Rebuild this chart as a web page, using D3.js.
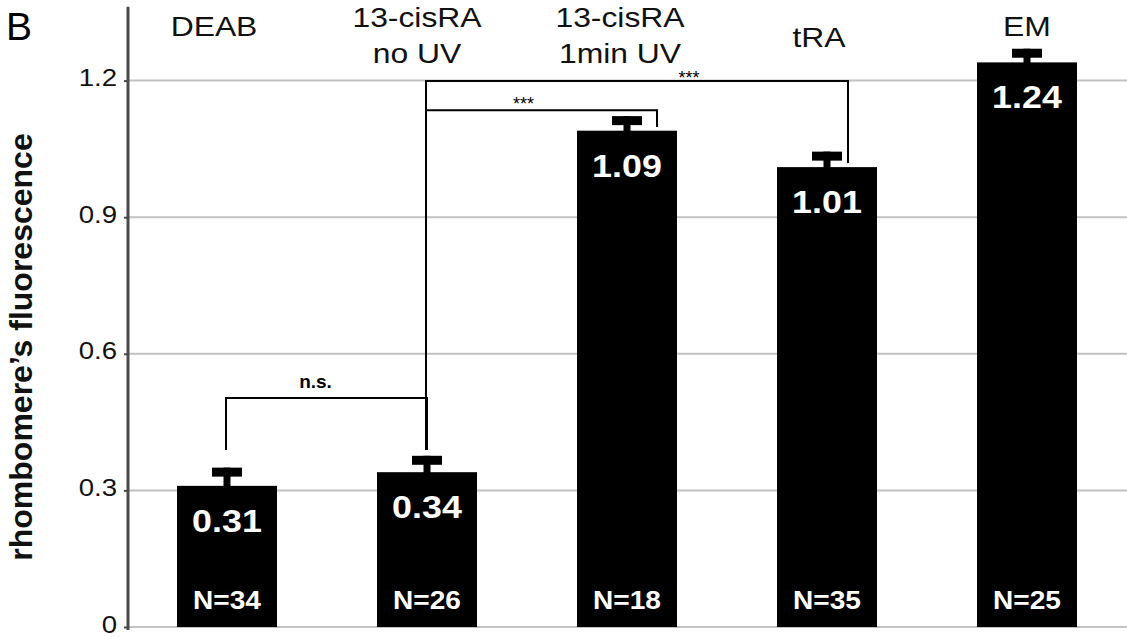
<!DOCTYPE html>
<html>
<head>
<meta charset="utf-8">
<script src="https://cdn.jsdelivr.net/npm/d3@7"></script>
<style>
  body { margin: 0; background: #fff; }
  text { font-family: "Liberation Sans", Arial, Helvetica, sans-serif; }
</style>
</head>
<body>
<script>
// data
var categories = ["DEAB", "13-cisRA no UV", "13-cisRA 1min UV", "tRA", "EM"];
var labelLines = [["DEAB"], ["13-cisRA", "no UV"], ["13-cisRA", "1min UV"], ["tRA"], ["EM"]];
var values = [0.31, 0.34, 1.09, 1.01, 1.24];
var errors = [0.04, 0.036, 0.032, 0.034, 0.03];
var counts = [34, 26, 18, 35, 25];
var yTicks = [0, 0.3, 0.6, 0.9, 1.2];
var brackets = [
  {from: 0, to: 1, level: 0.503, ends: [0.389, 0.389], label: "n.s."},
  {from: 1, to: 2, level: 1.135, ends: [0.389, 1.098], label: "***"},
  {from: 1, to: 3, level: 1.199, ends: [0.389, 1.019], label: "***"}
];

var W = 1127, H = 637;
var axisX = 128;

var svg = d3.select("body").append("svg")
    .attr("width", W)
    .attr("height", H);

var x = d3.scaleBand()
    .domain(categories)
    .range([127, 1127])
    .paddingInner(0.5)
    .paddingOuter(0.25);

var y = d3.scaleLinear()
    .domain([0, 1.2])
    .range([627, 80.6]);

var cx = function(i) { return x(categories[i]) + x.bandwidth() / 2; };

// gridlines
svg.append("g")
    .selectAll("line")
    .data(yTicks)
    .enter().append("line")
    .attr("x1", axisX)
    .attr("x2", W)
    .attr("y1", d => y(d))
    .attr("y2", d => y(d))
    .attr("stroke", "#c2c2c2")
    .attr("stroke-width", 2);

// y axis
var yAxis = svg.append("g")
    .attr("transform", "translate(" + axisX + ",0)")
    .call(d3.axisLeft(y).tickValues(yTicks).tickSize(4).tickPadding(9)
        .tickFormat(d => d === 0 ? "0" : d.toFixed(1)));
yAxis.select(".domain").remove();
yAxis.selectAll(".tick line").attr("stroke", "#444").attr("stroke-width", 2);
yAxis.selectAll(".tick text")
    .attr("font-size", "24px")
    .attr("fill", "#111")
    .attr("dy", null)
    .attr("y", 5)
    .attr("transform", "scale(1.15,1)")
    .attr("x", -11 / 1.15);

svg.append("line")
    .attr("x1", axisX).attr("x2", axisX)
    .attr("y1", y(1.362)).attr("y2", y(0) + 3)
    .attr("stroke", "#4a4a4a")
    .attr("stroke-width", 3);

// bars
svg.append("g")
    .selectAll("rect")
    .data(values)
    .enter().append("rect")
    .attr("x", (d, i) => x(categories[i]))
    .attr("y", d => y(d))
    .attr("width", x.bandwidth())
    .attr("height", d => y(0) - y(d))
    .attr("fill", "#000");

// error bars: stem + thick cap
var err = svg.append("g");
err.selectAll(".stem")
    .data(values)
    .enter().append("rect")
    .attr("class", "stem")
    .attr("x", (d, i) => cx(i) - 3.5)
    .attr("y", (d, i) => y(d + errors[i]))
    .attr("width", 7)
    .attr("height", (d, i) => y(d) - y(d + errors[i]) + 1)
    .attr("fill", "#000");
err.selectAll(".cap")
    .data(values)
    .enter().append("rect")
    .attr("class", "cap")
    .attr("x", (d, i) => cx(i) - 15)
    .attr("y", (d, i) => y(d + errors[i]))
    .attr("width", 30)
    .attr("height", 9)
    .attr("fill", "#000");

// value labels inside bars
svg.append("g")
    .selectAll("text")
    .data(values)
    .enter().append("text")
    .attr("transform", (d, i) => "translate(" + cx(i) + "," + (y(d) + 46) + ") scale(1.12,1)")
    .attr("text-anchor", "middle")
    .attr("font-size", "32px")
    .attr("font-weight", "bold")
    .attr("fill", "#fff")
    .text(d => d.toFixed(2));

// N labels
svg.append("g")
    .selectAll("text")
    .data(counts)
    .enter().append("text")
    .attr("transform", (d, i) => "translate(" + cx(i) + "," + (y(0) - 18) + ") scale(1.08,1)")
    .attr("text-anchor", "middle")
    .attr("font-size", "26px")
    .attr("font-weight", "bold")
    .attr("fill", "#fff")
    .text(d => "N=" + d);

// category labels on top
var labelDx = [-13, -10, -7, -8, 0];
var labelY = [36, 27, 27, 47, 36];
labelLines.forEach(function(lines, i) {
  lines.forEach(function(t, j) {
    svg.append("text")
        .attr("transform", "translate(" + (cx(i) + labelDx[i]) + "," + (labelY[i] + j * 36) + ") scale(1.18,1)")
        .attr("text-anchor", "middle")
        .attr("font-size", "27px")
        .attr("fill", "#111")
        .text(t);
  });
});

// significance brackets
var bracketDx = [0, 30, 21];
var textDx = [-11, -18, 52];
var textDy = [-10, 0, 3];
var br = svg.append("g");
brackets.forEach(function(b, k) {
  var xl = cx(b.from) - 1, xr = cx(b.to) + bracketDx[k];
  br.append("path")
      .attr("d", "M" + xl + "," + y(b.ends[0]) + "V" + y(b.level) + "H" + xr + "V" + y(b.ends[1]))
      .attr("fill", "none")
      .attr("stroke", "#000")
      .attr("stroke-width", 2);
  br.append("text")
      .attr("x", (xl + xr) / 2 + textDx[k])
      .attr("y", y(b.level) + textDy[k])
      .attr("text-anchor", "middle")
      .attr("font-size", b.label === "n.s." ? "19px" : "18px")
      .attr("font-weight", b.label === "n.s." ? "bold" : "normal")
      .attr("fill", "#000")
      .text(b.label);
});

// y axis title
svg.append("text")
    .attr("transform", "translate(32,347) rotate(-90)")
    .attr("text-anchor", "middle")
    .attr("font-size", "32px")
    .attr("font-weight", "bold")
    .attr("fill", "#111")
    .text("rhombomere\u2019s fluorescence");

// panel letter
svg.append("text")
    .attr("x", 6)
    .attr("y", 40)
    .attr("font-size", "39px")
    .attr("fill", "#000")
    .text("B");
</script>
</body>
</html>
